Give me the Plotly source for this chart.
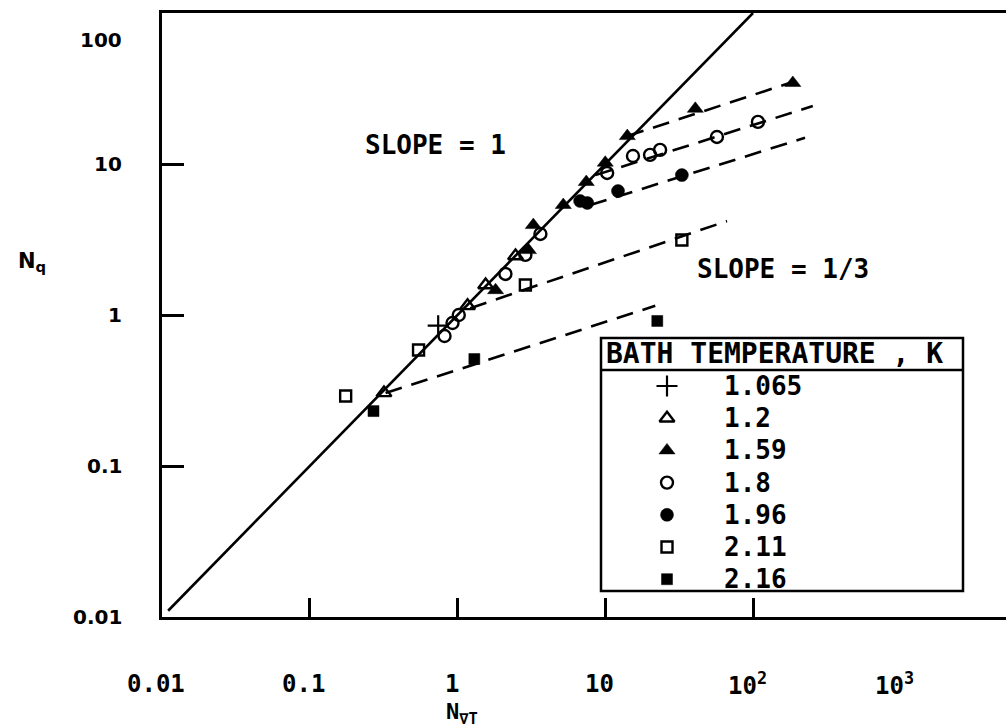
import plotly.graph_objects as go
import math

# ---------------- data ----------------
bath_temps = ["1.065", "1.2", "1.59", "1.8", "1.96", "2.11", "2.16"]

x_1065 = [0.74]
y_1065 = [0.85]

x_120 = [0.318, 1.17, 1.55, 2.47]
y_120 = [0.305, 1.15, 1.58, 2.46]

x_159 = [1.81, 3.02, 3.26, 5.2, 7.44, 10.0, 14.1, 40.7, 186]
y_159 = [1.46, 2.69, 3.94, 5.35, 7.6, 10.2, 15.3, 23.2, 34.4]

x_180 = [0.817, 0.925, 1.02, 2.11, 2.88, 3.64, 10.3, 15.4, 20.1, 23.5, 57, 108]
y_180 = [0.726, 0.885, 1.0, 1.87, 2.5, 3.44, 8.72, 11.3, 11.5, 12.4, 15.1, 19.0]

x_196 = [6.76, 7.56, 12.2, 33.0]
y_196 = [5.69, 5.52, 6.62, 8.44]

x_211 = [0.175, 0.545, 2.88, 33.0]
y_211 = [0.291, 0.586, 1.58, 3.14]

x_216 = [0.27, 1.30, 22.5]
y_216 = [0.231, 0.511, 0.913]

# slope-1 reference line and slope-1/3 dashed fits (end points)
slope1_x = [0.011, 100]
slope1_y = [0.011, 100]
fit_159_x, fit_159_y = [14.1, 192], [15.3, 35.3]
fit_180_x, fit_180_y = [8.58, 254], [8.44, 24.2]
fit_196_x, fit_196_y = [7.92, 225], [5.35, 14.9]
fit_211_x, fit_211_y = [1.22, 66.7], [1.11, 4.19]
fit_216_x, fit_216_y = [0.326, 21.8], [0.304, 1.15]

x_ticks = [0.01, 0.1, 1, 10, 100, 1000]
x_tick_text = ["0.01", "0.1", "1", "10", "10<sup>2</sup>", "10<sup>3</sup>"]
y_ticks = [0.01, 0.1, 1, 10, 100]
y_tick_text = ["0.01", "0.1", "1", "10", "100"]

# ---------------- styling ----------------
W, H = 1006, 727
ML, MT, MB, MR = 162, 13, 110, 0
PW, PH = W - ML - MR, H - MT - MB
X_DEC = 147.75
X_RANGE = [-2, -2 + PW / X_DEC]
Y_RANGE = [-2, 2]

INK = "black"
MONO = "DejaVu Sans Mono"
SANS = "DejaVu Sans"


def px(xp):
    return (xp - ML) / PW


def py(yp):
    return (MT + PH - yp) / PH


LW = 2.4
styles = {
    "1.065": dict(symbol="cross-thin", size=15, color=INK, line=dict(width=2.2, color=INK)),
    "1.2": dict(symbol="triangle-up-open", size=13, color=INK, line=dict(width=LW, color=INK)),
    "1.59": dict(symbol="triangle-up", size=14, color=INK, line=dict(width=0.5, color=INK)),
    "1.8": dict(symbol="circle-open", size=12, color=INK, line=dict(width=LW, color=INK)),
    "1.96": dict(symbol="circle", size=13, color=INK, line=dict(width=0.5, color=INK)),
    "2.11": dict(symbol="square-open", size=11, color=INK, line=dict(width=LW, color=INK)),
    "2.16": dict(symbol="square", size=11, color=INK, line=dict(width=0.5, color=INK)),
}
series = {
    "1.065": (x_1065, y_1065),
    "1.2": (x_120, y_120),
    "1.59": (x_159, y_159),
    "1.8": (x_180, y_180),
    "1.96": (x_196, y_196),
    "2.11": (x_211, y_211),
    "2.16": (x_216, y_216),
}

fig = go.Figure()

# slope = 1 line
fig.add_trace(go.Scatter(x=slope1_x, y=slope1_y, mode="lines",
                         line=dict(color=INK, width=2.6), showlegend=False))

# dashed slope-1/3 fits
DASH = "17px,10px"
for fx, fy in [(fit_159_x, fit_159_y), (fit_180_x, fit_180_y), (fit_196_x, fit_196_y),
               (fit_211_x, fit_211_y), (fit_216_x, fit_216_y)]:
    fig.add_trace(go.Scatter(x=fx, y=fy, mode="lines",
                             line=dict(color=INK, width=2.6, dash=DASH), showlegend=False))

# measured points
for t in bath_temps:
    sx, sy = series[t]
    fig.add_trace(go.Scatter(x=sx, y=sy, mode="markers", marker=styles[t],
                             showlegend=False, cliponaxis=False))

# key box (drawn in paper units on an overlay axis pair)
BOX_L, BOX_R, BOX_T, BOX_B = 601, 963, 338, 591
HEAD_LINE = 370
ROW0, ROW_STEP = 386, 32.2
SYM_X, TXT_X = 667, 722

for i, t in enumerate(bath_temps):
    fig.add_trace(go.Scatter(x=[px(SYM_X)], y=[py(ROW0 + i * ROW_STEP)], mode="markers",
                             marker=styles[t], xaxis="x2", yaxis="y2",
                             showlegend=False, cliponaxis=False))

shapes = [
    dict(type="rect", xref="paper", yref="paper", x0=px(BOX_L), x1=px(BOX_R),
         y0=py(BOX_B), y1=py(BOX_T), line=dict(color=INK, width=2.5), fillcolor="white",
         layer="below"),
    dict(type="line", xref="paper", yref="paper", x0=px(BOX_L), x1=px(BOX_R),
         y0=py(HEAD_LINE), y1=py(HEAD_LINE), line=dict(color=INK, width=2.5)),
]

TXT = dict(family=MONO, size=26, color=INK, weight="bold")
annotations = [
    dict(xref="paper", yref="paper", x=px(BOX_L + 3), y=py(354), xanchor="left", yanchor="middle",
         text="BATH TEMPERATURE , K", showarrow=False,
         font=dict(family=MONO, size=28, color=INK, weight="bold")),
    dict(xref="paper", yref="paper", x=px(363), y=py(145), xanchor="left", yanchor="middle",
         text="SLOPE = 1", showarrow=False, font=TXT),
    dict(xref="paper", yref="paper", x=px(695), y=py(269), xanchor="left", yanchor="middle",
         text="SLOPE = 1/3", showarrow=False, font=TXT),
    dict(xref="paper", yref="paper", x=px(462), y=py(714), xanchor="center", yanchor="middle",
         text="N<sub>∇T</sub>", showarrow=False,
         font=dict(family=MONO, size=22, color=INK, weight="bold")),
    dict(xref="paper", yref="paper", x=px(32), y=py(262), xanchor="center", yanchor="middle",
         text="N<sub>q</sub>", showarrow=False,
         font=dict(family=SANS, size=21, color=INK, weight="bold")),
]
for i, t in enumerate(bath_temps):
    annotations.append(dict(xref="paper", yref="paper", x=px(TXT_X), y=py(ROW0 + i * ROW_STEP),
                            xanchor="left", yanchor="middle", text=t, showarrow=False, font=TXT))

# axis numbers
for v, s in zip(y_ticks, y_tick_text):
    annotations.append(dict(xref="paper", yref="y", x=px(124), y=math.log10(v),
                            xanchor="right", yanchor="middle", text=s, showarrow=False,
                            yshift=-27 if v == y_ticks[-1] else 0,
                            font=dict(family=SANS, size=20, color=INK, weight="bold")))
for v, s in zip(x_ticks, x_tick_text):
    annotations.append(dict(xref="x", yref="paper", x=math.log10(v), y=py(684),
                            xanchor="center", yanchor="middle", text=s, showarrow=False,
                            xshift=-6,
                            font=dict(family=MONO, size=24, color=INK, weight="bold")))

fig.update_layout(
    width=W, height=H,
    margin=dict(l=ML, r=MR, t=MT, b=MB, pad=0),
    paper_bgcolor="white", plot_bgcolor="white",
    showlegend=False,
    xaxis=dict(type="log", range=X_RANGE, showgrid=False, zeroline=False,
               showline=True, linecolor=INK, linewidth=3, mirror=True,
               tickvals=[0.1, 1, 10, 100], ticks="inside", ticklen=19, tickwidth=2.5,
               tickcolor=INK, showticklabels=False),
    yaxis=dict(type="log", range=Y_RANGE, showgrid=False, zeroline=False,
               showline=True, linecolor=INK, linewidth=3, mirror=False,
               tickvals=[0.1, 1, 10], ticks="inside", ticklen=22, tickwidth=2.5,
               tickcolor=INK, showticklabels=False),
    xaxis2=dict(overlaying="x", range=[0, 1], visible=False, fixedrange=True),
    yaxis2=dict(overlaying="y", range=[0, 1], visible=False, fixedrange=True),
    shapes=shapes,
    annotations=annotations,
)

fig.write_html("out.html")
